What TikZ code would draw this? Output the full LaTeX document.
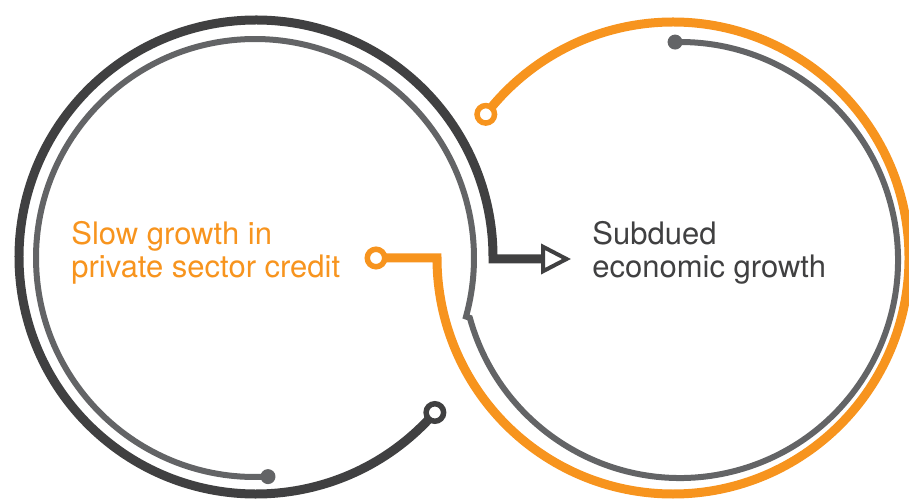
\documentclass[tikz,border=0pt]{standalone}
\usepackage{fontspec}
\setmainfont{TeX Gyre Heros}
\usetikzlibrary{arrows.meta}
\definecolor{cOrange}{RGB}{247,148,30}
\definecolor{cDark}{RGB}{64,64,65}
\definecolor{cGray}{RGB}{99,100,102}

\begin{document}
\begin{tikzpicture}[x=.5pt,y=.5pt,
		dotfull/.style={circle,fill=#1,inner sep=0pt,minimum size=7.5pt},
		dotopen/.style={circle,draw=#1,fill=white,line width=2.75pt,inner sep=0pt,minimum size=8.75pt},
		caption/.style={align=left,anchor=base west,inner sep=0pt,font=\fontsize{15.5}{16.5}\selectfont}]
		\useasboundingbox (0,0) rectangle (909,498);
		% centres of the rings
		\coordinate (cdark) at (256,241);
		\coordinate (cgrayl) at (255,240);
		\coordinate (corange) at (673,240);
		\coordinate (cgrayr) at (680,238);
		% ends and corners
		\coordinate (ed) at ([shift={(-41:237)}]cdark);
		\coordinate (eg1) at ([shift={(-86.6:219)}]cgrayl);
		\coordinate (ej) at ([shift={(195.4:218)}]cgrayr);
		\coordinate (eg2) at ([shift={(91.3:218)}]cgrayr);
		\coordinate (eo1) at (376,240);
		\coordinate (eo2) at ([shift={(142.5:236)}]corange);
		\coordinate (tip) at (571,239);
		\draw[cGray,line width=3pt] (eg1) arc[start angle=-86.6,end angle=-375.5,radius=219] -- (ej) arc[start angle=195.4,end angle=451.3,radius=218];
		\draw[cOrange,line width=4.5pt] (eo1) -- ([shift={(180:236)}]corange) arc[start angle=180,end angle=502.5,radius=236];
		\draw[cDark,line width=4.5pt,-{Triangle[open,length=15pt,width=15pt,line width=2pt]}] (ed) arc[start angle=-41,end angle=-360,radius=237] |- (tip);
		\node[dotfull=cGray] (g1) at (eg1) {};
		\node[dotfull=cGray] (g2) at (eg2) {};
		\node[dotopen=cDark] (d1) at (ed) {};
		\node[dotopen=cOrange] (o1) at (eo1) {};
		\node[dotopen=cOrange] (o2) at (eo2) {};
		\node[caption,cOrange] (cause) at (71,220) {Slow growth in\\private sector credit};
		\node[caption,cDark] (effect) at (592,220) {Subdued\\economic growth};
	\end{tikzpicture}
\end{document}
